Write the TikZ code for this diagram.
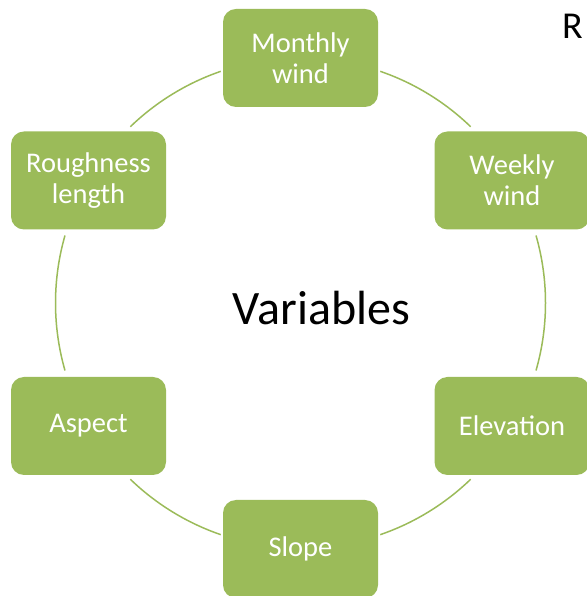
\documentclass[tikz,border=0pt]{standalone}
\usepackage{fontspec}
\setmainfont{Carlito}
\definecolor{olive}{HTML}{9BBB59}
\tikzset{
  varbox/.style={fill=olive, draw=none, rounded corners=13pt, minimum width=155pt, minimum height=98pt, inner sep=0pt, text=white, align=center, font=\fontsize{28.5}{31}\selectfont},
  conn/.style={draw=olive, line width=1.5pt}
}
\begin{document}
\begin{tikzpicture}[x=1pt,y=1pt]
\useasboundingbox (0,0) rectangle (586,596);
\coordinate (c) at (300.5,293);
\node[varbox] (m) at (300.5,538) {Monthly\\wind};
\node[varbox] (w) at (512,415.5) {Weekly\\wind};
\node[varbox] (e) at (512,170) {Elevation};
\node[varbox] (s) at (300.5,47) {Slope};
\node[varbox] (a) at (88.5,170) {Aspect};
\node[varbox] (r) at (88.5,415.5) {Roughness\\length};
\node[anchor=base, inner sep=0pt, font=\fontsize{48}{57}\selectfont] (v) at (321.5,271) {Variables};
\node[anchor=base west, inner sep=0pt, font=\fontsize{38}{45}\selectfont] (rr) at (562,557) {R};
\draw[conn] (c) ++(71:245) arc[start angle=71, end angle=46, radius=245];
\draw[conn] (c) ++(16:245) arc[start angle=16, end angle=-16, radius=245];
\draw[conn] (c) ++(-46:245) arc[start angle=-46, end angle=-71, radius=245];
\draw[conn] (c) ++(-109:245) arc[start angle=-109, end angle=-134, radius=245];
\draw[conn] (c) ++(196:245) arc[start angle=196, end angle=164, radius=245];
\draw[conn] (c) ++(134:245) arc[start angle=134, end angle=109, radius=245];
\end{tikzpicture}
\end{document}
